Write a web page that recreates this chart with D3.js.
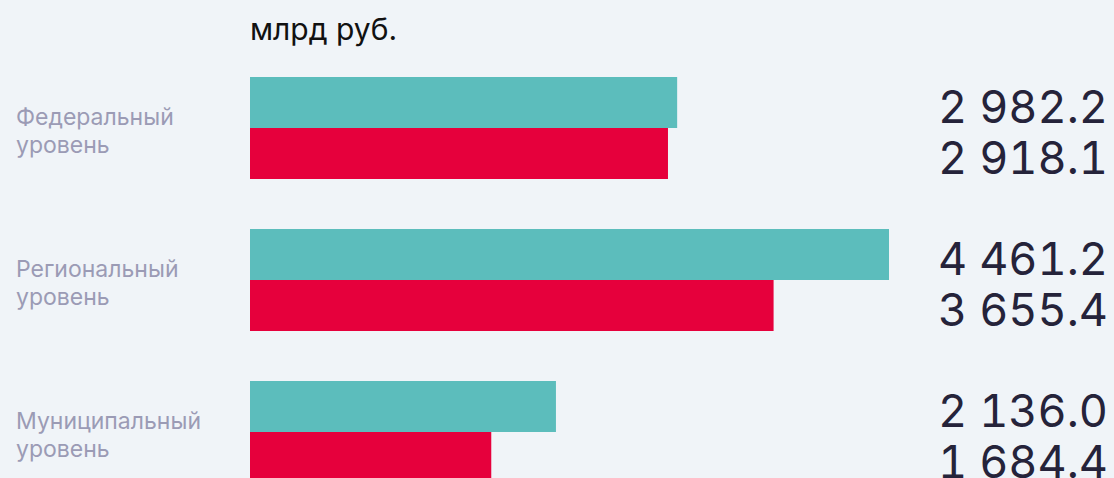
<!DOCTYPE html>
<html>
<head>
<meta charset="utf-8">
<script src="https://cdn.jsdelivr.net/npm/d3@7"></script>
<style>
  html, body { margin: 0; padding: 0; background: #f0f4f8; }
  svg { display: block; }
</style>
</head>
<body>
<div class="chart"></div>
<script>
'use strict';

// levels of the budget system
var levels = [['Федеральный', 'уровень'], ['Региональный', 'уровень'], ['Муниципальный', 'уровень']];
var planValues = [2982.2, 4461.2, 2136.0];   // teal
var factValues = [2918.1, 3655.4, 1684.4];   // red
var unitLabel = 'млрд руб.';

var width = 1114, height = 478;
var colors = ['#5cbdbc', '#e6003c'];

var svg = d3.select('.chart').append('svg')
  .attr('width', width)
  .attr('height', height);

svg.append('text')
  .attr('x', 250)
  .attr('y', 40)
  .style('font-family', 'Inter, sans-serif')
  .style('font-size', '30px')
  .style('fill', '#111')
  .text(unitLabel);

// 152px per group, 50px gap between groups
var y = d3.scaleBand()
  .domain(d3.range(levels.length))
  .range([77, 77 + 152 * 3 - 50])
  .paddingInner(50 / 152)
  .paddingOuter(0);

var x = d3.scaleLinear()
  .domain([0, 4461.2])
  .range([250, 889]);

var inner = d3.scaleBand()
  .domain([0, 1])
  .range([0, y.bandwidth()]);

var fmt = function(v) {
  return d3.format(',.1f')(v).replace(/,/g, ' ');
};

var groups = svg.selectAll('g.level')
  .data(levels.map(function(l, i) { return { label: l, vals: [planValues[i], factValues[i]] }; }))
  .enter().append('g')
  .attr('class', 'level')
  .attr('transform', function(d, i) { return 'translate(0,' + y(i) + ')'; });

groups.selectAll('rect')
  .data(function(d) { return d.vals; })
  .enter().append('rect')
  .attr('x', x(0))
  .attr('y', function(d, j) { return inner(j); })
  .attr('width', function(d) { return x(d) - x(0); })
  .attr('height', inner.bandwidth())
  .style('fill', function(d, j) { return colors[j]; });

groups.selectAll('text.val')
  .data(function(d) { return d.vals; })
  .enter().append('text')
  .attr('class', 'val')
  .attr('x', 1108)
  .attr('y', function(d, j) { return inner(j) + inner.bandwidth() / 2 + 20; })
  .attr('text-anchor', 'end')
  .style('font-family', 'Inter, sans-serif')
  .style('font-size', '45px')
  .style('font-variant-numeric', 'tabular-nums')
  .style('fill', '#25233a')
  .text(fmt);

groups.selectAll('text.lbl')
  .data(function(d) { return d.label; })
  .enter().append('text')
  .attr('class', 'lbl')
  .attr('x', 16)
  .attr('y', function(d, j) { return 48 + j * 28; })
  .style('font-family', 'Inter, sans-serif')
  .style('font-size', '23px')
  .style('fill', '#9b9bb5')
  .text(function(d) { return d; });
</script>
</body>
</html>
